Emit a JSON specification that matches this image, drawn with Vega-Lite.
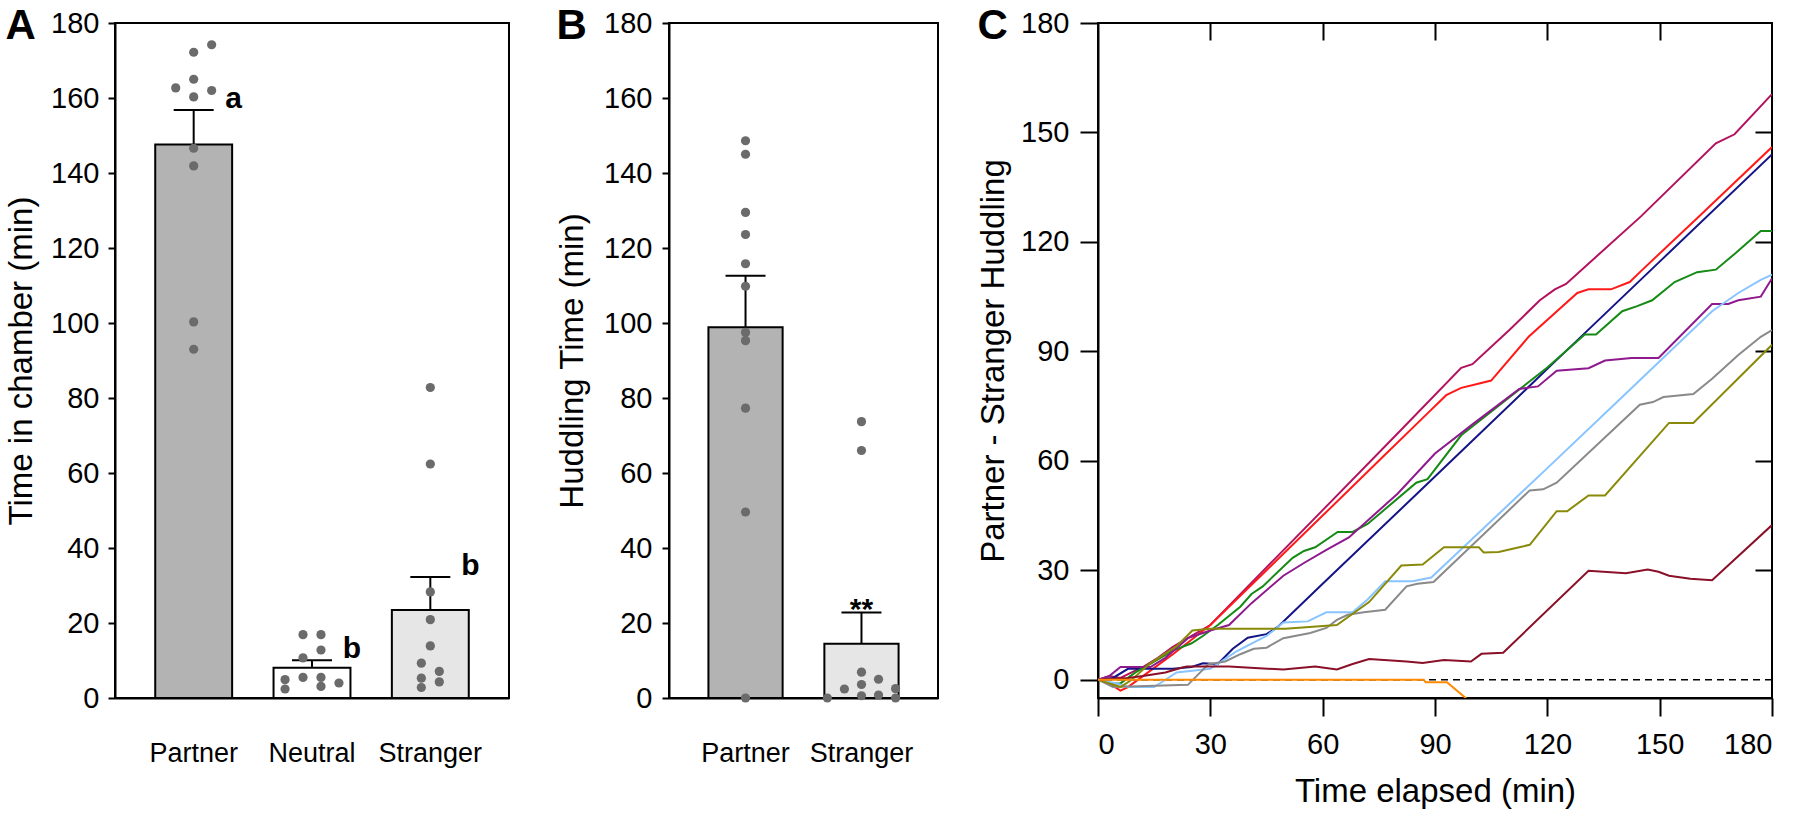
{
  "$schema": "https://vega.github.io/schema/vega-lite/v6.json",
  "padding": {"left": 4, "top": 4, "right": 5, "bottom": 0},
  "bounds": "flush",
  "spacing": 160,
  "resolve": {"scale": {"color": "independent", "xOffset": "independent"}},
  "config": {
    "font": "Liberation Sans",
    "view": {"stroke": "black", "strokeWidth": 2},
    "axis": {"domainColor": "black", "domainWidth": 2, "tickColor": "black", "tickWidth": 2, "labelColor": "black", "titleColor": "black", "labelFont": "Liberation Sans", "titleFont": "Liberation Sans", "grid": false, "labelFontSize": 29, "titleFontSize": 33, "titleFontWeight": "normal"},
    "title": {"fontSize": 42, "fontWeight": "bold", "anchor": "start", "frame": "bounds", "color": "black", "font": "Liberation Sans"}
  },
  "datasets": {
    "aBars": [
      {"cat": "Partner", "mean": 147.6, "upper": 156.8, "lab": "a"},
      {"cat": "Neutral", "mean": 8.1, "upper": 10.1, "lab": "b"},
      {"cat": "Stranger", "mean": 23.5, "upper": 32.3, "lab": "b"}
    ],
    "aDots": [
      {"cat": "Partner", "value": 174.2, "jit": 2},
      {"cat": "Partner", "value": 172.2, "jit": 0},
      {"cat": "Partner", "value": 165.0, "jit": 0},
      {"cat": "Partner", "value": 162.7, "jit": -2},
      {"cat": "Partner", "value": 162.0, "jit": 2},
      {"cat": "Partner", "value": 160.3, "jit": 0},
      {"cat": "Partner", "value": 146.6, "jit": 0},
      {"cat": "Partner", "value": 141.9, "jit": 0},
      {"cat": "Partner", "value": 100.3, "jit": 0},
      {"cat": "Partner", "value": 93.0, "jit": 0},
      {"cat": "Neutral", "value": 16.9, "jit": -1},
      {"cat": "Neutral", "value": 16.9, "jit": 1},
      {"cat": "Neutral", "value": 12.8, "jit": 1},
      {"cat": "Neutral", "value": 10.7, "jit": -1},
      {"cat": "Neutral", "value": 4.9, "jit": -3},
      {"cat": "Neutral", "value": 5.5, "jit": -1},
      {"cat": "Neutral", "value": 5.5, "jit": 1},
      {"cat": "Neutral", "value": 4.0, "jit": 3},
      {"cat": "Neutral", "value": 2.4, "jit": -3},
      {"cat": "Neutral", "value": 3.1, "jit": 1},
      {"cat": "Stranger", "value": 82.8, "jit": 0},
      {"cat": "Stranger", "value": 62.4, "jit": 0},
      {"cat": "Stranger", "value": 28.3, "jit": 0},
      {"cat": "Stranger", "value": 20.9, "jit": 0},
      {"cat": "Stranger", "value": 13.9, "jit": 0},
      {"cat": "Stranger", "value": 9.3, "jit": -1},
      {"cat": "Stranger", "value": 7.1, "jit": 1},
      {"cat": "Stranger", "value": 5.3, "jit": -1},
      {"cat": "Stranger", "value": 4.3, "jit": 1},
      {"cat": "Stranger", "value": 2.8, "jit": -1}
    ],
    "bBars": [
      {"cat": "Partner", "mean": 98.9, "upper": 112.6, "lab": ""},
      {"cat": "Stranger", "mean": 14.5, "upper": 22.8, "lab": "**"}
    ],
    "bDots": [
      {"cat": "Partner", "value": 148.6, "jit": 0},
      {"cat": "Partner", "value": 145.0, "jit": 0},
      {"cat": "Partner", "value": 129.5, "jit": 0},
      {"cat": "Partner", "value": 123.6, "jit": 0},
      {"cat": "Partner", "value": 115.8, "jit": 0},
      {"cat": "Partner", "value": 109.8, "jit": 0},
      {"cat": "Partner", "value": 97.5, "jit": 0},
      {"cat": "Partner", "value": 95.3, "jit": 0},
      {"cat": "Partner", "value": 77.3, "jit": 0},
      {"cat": "Partner", "value": 49.6, "jit": 0},
      {"cat": "Partner", "value": 0, "jit": 0},
      {"cat": "Stranger", "value": 73.7, "jit": 0},
      {"cat": "Stranger", "value": 66.0, "jit": 0},
      {"cat": "Stranger", "value": 6.9, "jit": 0},
      {"cat": "Stranger", "value": 2.4, "jit": -2},
      {"cat": "Stranger", "value": 3.6, "jit": 0},
      {"cat": "Stranger", "value": 5.0, "jit": 2},
      {"cat": "Stranger", "value": 2.5, "jit": 4},
      {"cat": "Stranger", "value": 0, "jit": -4},
      {"cat": "Stranger", "value": 0.6, "jit": 0},
      {"cat": "Stranger", "value": 0.8, "jit": 2},
      {"cat": "Stranger", "value": 0, "jit": 4}
    ],
    "cLines": [
      {"s": "1", "t": 0, "v": 0}, {"s": "1", "t": 3, "v": 1}, {"s": "1", "t": 6, "v": 0.5}, {"s": "1", "t": 9, "v": 2}, {"s": "1", "t": 12, "v": 3.5}, {"s": "1", "t": 16, "v": 6}, {"s": "1", "t": 20, "v": 9}, {"s": "1", "t": 25, "v": 12}, {"s": "1", "t": 30, "v": 15}, {"s": "1", "t": 45, "v": 30.8}, {"s": "1", "t": 60, "v": 46.5}, {"s": "1", "t": 80, "v": 67.5}, {"s": "1", "t": 97, "v": 85.5}, {"s": "1", "t": 100, "v": 86.5}, {"s": "1", "t": 110, "v": 96}, {"s": "1", "t": 118, "v": 104}, {"s": "1", "t": 122, "v": 107}, {"s": "1", "t": 125, "v": 108.5}, {"s": "1", "t": 145, "v": 127}, {"s": "1", "t": 165, "v": 147}, {"s": "1", "t": 170, "v": 149.5}, {"s": "1", "t": 180, "v": 160.5},
      {"s": "2", "t": 0, "v": 0}, {"s": "2", "t": 3, "v": -1}, {"s": "2", "t": 6, "v": -3}, {"s": "2", "t": 8, "v": -2}, {"s": "2", "t": 12, "v": 1}, {"s": "2", "t": 20, "v": 7}, {"s": "2", "t": 30, "v": 15}, {"s": "2", "t": 45, "v": 30}, {"s": "2", "t": 60, "v": 45}, {"s": "2", "t": 75, "v": 60}, {"s": "2", "t": 88, "v": 73}, {"s": "2", "t": 93, "v": 78}, {"s": "2", "t": 97, "v": 80}, {"s": "2", "t": 101, "v": 81}, {"s": "2", "t": 105, "v": 82}, {"s": "2", "t": 115, "v": 94}, {"s": "2", "t": 128, "v": 106}, {"s": "2", "t": 131, "v": 107}, {"s": "2", "t": 137, "v": 107}, {"s": "2", "t": 142, "v": 109}, {"s": "2", "t": 145, "v": 112}, {"s": "2", "t": 160, "v": 126.5}, {"s": "2", "t": 180, "v": 146},
      {"s": "3", "t": 0, "v": 0}, {"s": "3", "t": 4, "v": 0.5}, {"s": "3", "t": 8, "v": 3}, {"s": "3", "t": 20, "v": 3}, {"s": "3", "t": 25, "v": 3.5}, {"s": "3", "t": 28, "v": 4.5}, {"s": "3", "t": 32, "v": 4.3}, {"s": "3", "t": 36, "v": 8.5}, {"s": "3", "t": 40, "v": 11.5}, {"s": "3", "t": 45, "v": 12.5}, {"s": "3", "t": 48, "v": 14.5}, {"s": "3", "t": 60, "v": 26.3}, {"s": "3", "t": 90, "v": 55.7}, {"s": "3", "t": 120, "v": 85.2}, {"s": "3", "t": 150, "v": 114.6}, {"s": "3", "t": 180, "v": 144},
      {"s": "4", "t": 0, "v": 0}, {"s": "4", "t": 3, "v": -1}, {"s": "4", "t": 6, "v": -1}, {"s": "4", "t": 10, "v": 2}, {"s": "4", "t": 15, "v": 5}, {"s": "4", "t": 20, "v": 8}, {"s": "4", "t": 25, "v": 10}, {"s": "4", "t": 28, "v": 12}, {"s": "4", "t": 32, "v": 15}, {"s": "4", "t": 38, "v": 20}, {"s": "4", "t": 41, "v": 23.5}, {"s": "4", "t": 44, "v": 25.6}, {"s": "4", "t": 52, "v": 33.4}, {"s": "4", "t": 55, "v": 35.3}, {"s": "4", "t": 58, "v": 36.3}, {"s": "4", "t": 64, "v": 40.5}, {"s": "4", "t": 68, "v": 40.5}, {"s": "4", "t": 72, "v": 42.7}, {"s": "4", "t": 85, "v": 54}, {"s": "4", "t": 88, "v": 55}, {"s": "4", "t": 97, "v": 67}, {"s": "4", "t": 120, "v": 85.6}, {"s": "4", "t": 130, "v": 94.6}, {"s": "4", "t": 133, "v": 94.6}, {"s": "4", "t": 140, "v": 101}, {"s": "4", "t": 144, "v": 102.4}, {"s": "4", "t": 148, "v": 104}, {"s": "4", "t": 154, "v": 109}, {"s": "4", "t": 160, "v": 111.7}, {"s": "4", "t": 165, "v": 112.4}, {"s": "4", "t": 170, "v": 116.7}, {"s": "4", "t": 177, "v": 123}, {"s": "4", "t": 180, "v": 123},
      {"s": "5", "t": 0, "v": 0}, {"s": "5", "t": 3, "v": 1}, {"s": "5", "t": 6, "v": 3.5}, {"s": "5", "t": 14, "v": 3.5}, {"s": "5", "t": 18, "v": 6}, {"s": "5", "t": 24, "v": 11.4}, {"s": "5", "t": 30, "v": 13.5}, {"s": "5", "t": 35, "v": 15}, {"s": "5", "t": 41, "v": 21}, {"s": "5", "t": 49.5, "v": 28.5}, {"s": "5", "t": 55, "v": 32}, {"s": "5", "t": 61, "v": 35.6}, {"s": "5", "t": 67, "v": 39}, {"s": "5", "t": 80, "v": 51}, {"s": "5", "t": 90, "v": 62}, {"s": "5", "t": 100, "v": 70}, {"s": "5", "t": 112.5, "v": 79.7}, {"s": "5", "t": 117.5, "v": 80.4}, {"s": "5", "t": 122.5, "v": 84.7}, {"s": "5", "t": 131, "v": 85.4}, {"s": "5", "t": 135.4, "v": 87.5}, {"s": "5", "t": 142.5, "v": 88.2}, {"s": "5", "t": 149.7, "v": 88.2}, {"s": "5", "t": 164, "v": 103}, {"s": "5", "t": 168.3, "v": 103}, {"s": "5", "t": 171, "v": 104}, {"s": "5", "t": 177, "v": 105}, {"s": "5", "t": 180, "v": 110},
      {"s": "6", "t": 0, "v": 0}, {"s": "6", "t": 5, "v": -1}, {"s": "6", "t": 8, "v": -2}, {"s": "6", "t": 15, "v": -2}, {"s": "6", "t": 18, "v": 0}, {"s": "6", "t": 21, "v": 2}, {"s": "6", "t": 30, "v": 3}, {"s": "6", "t": 34, "v": 5.7}, {"s": "6", "t": 37, "v": 7.8}, {"s": "6", "t": 45, "v": 12}, {"s": "6", "t": 49.5, "v": 15.7}, {"s": "6", "t": 56, "v": 16}, {"s": "6", "t": 61, "v": 18.5}, {"s": "6", "t": 68, "v": 18.5}, {"s": "6", "t": 72, "v": 22}, {"s": "6", "t": 76.7, "v": 27}, {"s": "6", "t": 84, "v": 27}, {"s": "6", "t": 89, "v": 28}, {"s": "6", "t": 92.4, "v": 31.3}, {"s": "6", "t": 120, "v": 58}, {"s": "6", "t": 140, "v": 77.5}, {"s": "6", "t": 164, "v": 101}, {"s": "6", "t": 171, "v": 106}, {"s": "6", "t": 177, "v": 109.6}, {"s": "6", "t": 180, "v": 111},
      {"s": "7", "t": 0, "v": 0}, {"s": "7", "t": 4, "v": -2}, {"s": "7", "t": 24, "v": -1.4}, {"s": "7", "t": 29.5, "v": 4.3}, {"s": "7", "t": 34, "v": 5}, {"s": "7", "t": 38, "v": 7}, {"s": "7", "t": 41.6, "v": 8.5}, {"s": "7", "t": 45, "v": 8.8}, {"s": "7", "t": 49.5, "v": 11.4}, {"s": "7", "t": 56.7, "v": 12.8}, {"s": "7", "t": 61, "v": 14.2}, {"s": "7", "t": 63.8, "v": 16.4}, {"s": "7", "t": 66.7, "v": 17.8}, {"s": "7", "t": 71, "v": 18.5}, {"s": "7", "t": 76.7, "v": 19.2}, {"s": "7", "t": 82.4, "v": 25.6}, {"s": "7", "t": 85.3, "v": 26.3}, {"s": "7", "t": 89.6, "v": 26.8}, {"s": "7", "t": 115.3, "v": 51.9}, {"s": "7", "t": 118.9, "v": 52.2}, {"s": "7", "t": 122.5, "v": 54}, {"s": "7", "t": 144.7, "v": 75.4}, {"s": "7", "t": 148.2, "v": 76.1}, {"s": "7", "t": 151, "v": 77.5}, {"s": "7", "t": 159, "v": 78.3}, {"s": "7", "t": 164, "v": 82.5}, {"s": "7", "t": 171, "v": 89}, {"s": "7", "t": 177, "v": 94}, {"s": "7", "t": 180, "v": 95.8},
      {"s": "8", "t": 0, "v": 0}, {"s": "8", "t": 3, "v": -1}, {"s": "8", "t": 6, "v": -2}, {"s": "8", "t": 9, "v": 0}, {"s": "8", "t": 13.7, "v": 4.3}, {"s": "8", "t": 21, "v": 9.2}, {"s": "8", "t": 25.2, "v": 13.5}, {"s": "8", "t": 30, "v": 14}, {"s": "8", "t": 50, "v": 14}, {"s": "8", "t": 63.8, "v": 15}, {"s": "8", "t": 72.4, "v": 21.3}, {"s": "8", "t": 81, "v": 31.3}, {"s": "8", "t": 86.7, "v": 31.6}, {"s": "8", "t": 92.4, "v": 36.3}, {"s": "8", "t": 101.7, "v": 36.3}, {"s": "8", "t": 103, "v": 34.9}, {"s": "8", "t": 107, "v": 35}, {"s": "8", "t": 112.5, "v": 36.3}, {"s": "8", "t": 115.3, "v": 37}, {"s": "8", "t": 122.5, "v": 46.2}, {"s": "8", "t": 125.3, "v": 46.2}, {"s": "8", "t": 131, "v": 50.5}, {"s": "8", "t": 135.4, "v": 50.5}, {"s": "8", "t": 152.5, "v": 70.4}, {"s": "8", "t": 159, "v": 70.4}, {"s": "8", "t": 180, "v": 91.8},
      {"s": "9", "t": 0, "v": 0}, {"s": "9", "t": 8, "v": 0.5}, {"s": "9", "t": 12, "v": 1}, {"s": "9", "t": 18, "v": 2}, {"s": "9", "t": 22, "v": 3.2}, {"s": "9", "t": 23.7, "v": 3.6}, {"s": "9", "t": 35, "v": 3.6}, {"s": "9", "t": 49.5, "v": 2.8}, {"s": "9", "t": 58, "v": 3.6}, {"s": "9", "t": 63.8, "v": 2.8}, {"s": "9", "t": 68, "v": 4.3}, {"s": "9", "t": 72.4, "v": 5.7}, {"s": "9", "t": 82.4, "v": 5}, {"s": "9", "t": 86.7, "v": 4.6}, {"s": "9", "t": 92.4, "v": 5.4}, {"s": "9", "t": 99.6, "v": 5}, {"s": "9", "t": 102.4, "v": 7.1}, {"s": "9", "t": 108.2, "v": 7.4}, {"s": "9", "t": 131, "v": 29.9}, {"s": "9", "t": 141, "v": 29.2}, {"s": "9", "t": 146.8, "v": 30.2}, {"s": "9", "t": 149.7, "v": 29.6}, {"s": "9", "t": 152.5, "v": 28.5}, {"s": "9", "t": 158.2, "v": 27.7}, {"s": "9", "t": 164, "v": 27.3}, {"s": "9", "t": 180, "v": 42.4},
      {"s": "10", "t": 0, "v": 0}, {"s": "10", "t": 87, "v": 0}, {"s": "10", "t": 87.5, "v": -0.7}, {"s": "10", "t": 93.2, "v": -0.7}, {"s": "10", "t": 98.2, "v": -5}, {"s": "10", "t": 100, "v": -7}
    ]
  },
  "hconcat": [
    {
      "title": {"text": "A", "offset": -39, "fontSize": 42, "fontWeight": "bold"},
      "width": 394,
      "height": 675,
      "resolve": {"scale": {"xOffset": "independent"}},
      "layer": [
        {
          "data": {"name": "aBars"},
          "mark": {"type": "bar", "stroke": "black", "strokeWidth": 2},
          "encoding": {
            "x": {"field": "cat", "type": "nominal", "sort": null, "scale": {"domain": ["Partner", "Neutral", "Stranger"], "paddingInner": 0.35, "paddingOuter": 0.34}, "axis": {"title": null, "ticks": false, "labelAngle": 0, "labelPadding": 42, "labelFontSize": 27}},
            "y": {"field": "mean", "type": "quantitative", "scale": {"domain": [0, 180], "nice": false}, "axis": {"title": "Time in chamber (min)", "values": [0, 20, 40, 60, 80, 100, 120, 140, 160, 180], "tickSize": 7, "labelPadding": 9, "titlePadding": 12}},
            "color": {"field": "cat", "type": "nominal", "scale": {"domain": ["Partner", "Neutral", "Stranger"], "range": ["#b3b3b3", "#ffffff", "#e6e6e6"]}, "legend": null}
          }
        },
        {
          "data": {"name": "aBars"},
          "mark": {"type": "rule", "color": "black", "strokeWidth": 2},
          "encoding": {"x": {"field": "cat", "type": "nominal"}, "y": {"field": "mean", "type": "quantitative"}, "y2": {"field": "upper"}}
        },
        {
          "data": {"name": "aBars"},
          "mark": {"type": "tick", "color": "black", "thickness": 2, "size": 40, "opacity": 1},
          "encoding": {"x": {"field": "cat", "type": "nominal"}, "y": {"field": "upper", "type": "quantitative"}}
        },
        {
          "data": {"name": "aDots"},
          "mark": {"type": "circle", "color": "#6b6b6b", "opacity": 1, "size": 85},
          "encoding": {"x": {"field": "cat", "type": "nominal"}, "xOffset": {"field": "jit", "type": "quantitative", "scale": {"domain": [-4.28, 4.28], "nice": false, "zero": false}}, "y": {"field": "value", "type": "quantitative"}}
        },
        {
          "data": {"name": "aBars"},
          "mark": {"type": "text", "fontSize": 30, "fontWeight": "bold", "dx": 40, "dy": -2, "baseline": "alphabetic", "color": "black"},
          "encoding": {"x": {"field": "cat", "type": "nominal"}, "y": {"field": "upper", "type": "quantitative"}, "text": {"field": "lab"}}
        }
      ]
    },
    {
      "title": {"text": "B", "offset": -39, "fontSize": 42, "fontWeight": "bold"},
      "width": 269,
      "height": 675,
      "resolve": {"scale": {"xOffset": "independent"}},
      "layer": [
        {
          "data": {"name": "bBars"},
          "mark": {"type": "bar", "stroke": "black", "strokeWidth": 2},
          "encoding": {
            "x": {"field": "cat", "type": "nominal", "sort": null, "scale": {"domain": ["Partner", "Stranger"], "paddingInner": 0.36, "paddingOuter": 0.34}, "axis": {"title": null, "ticks": false, "labelAngle": 0, "labelPadding": 42, "labelFontSize": 27}},
            "y": {"field": "mean", "type": "quantitative", "scale": {"domain": [0, 180], "nice": false}, "axis": {"title": "Huddling Time (min)", "values": [0, 20, 40, 60, 80, 100, 120, 140, 160, 180], "tickSize": 7, "labelPadding": 10, "titlePadding": 14}},
            "color": {"field": "cat", "type": "nominal", "scale": {"domain": ["Partner", "Stranger"], "range": ["#b3b3b3", "#e6e6e6"]}, "legend": null}
          }
        },
        {
          "data": {"name": "bBars"},
          "mark": {"type": "rule", "color": "black", "strokeWidth": 2},
          "encoding": {"x": {"field": "cat", "type": "nominal"}, "y": {"field": "mean", "type": "quantitative"}, "y2": {"field": "upper"}}
        },
        {
          "data": {"name": "bBars"},
          "mark": {"type": "tick", "color": "black", "thickness": 2, "size": 40, "opacity": 1},
          "encoding": {"x": {"field": "cat", "type": "nominal"}, "y": {"field": "upper", "type": "quantitative"}}
        },
        {
          "data": {"name": "bDots"},
          "mark": {"type": "circle", "color": "#6b6b6b", "opacity": 1, "size": 85},
          "encoding": {"x": {"field": "cat", "type": "nominal"}, "xOffset": {"field": "jit", "type": "quantitative", "scale": {"domain": [-4.35, 4.35], "nice": false, "zero": false}}, "y": {"field": "value", "type": "quantitative"}}
        },
        {
          "data": {"name": "bBars"},
          "mark": {"type": "text", "fontSize": 30, "fontWeight": "bold", "dx": 0, "dy": 6, "baseline": "alphabetic", "color": "black"},
          "encoding": {"x": {"field": "cat", "type": "nominal"}, "y": {"field": "upper", "type": "quantitative"}, "text": {"field": "lab"}}
        }
      ]
    },
    {
      "title": {"text": "C", "offset": -39, "fontSize": 42, "fontWeight": "bold"},
      "width": 674,
      "height": 675,
      "resolve": {"axis": {"x": "independent", "y": "independent"}},
      "layer": [
        {
          "data": {"values": [{}]},
          "mark": {"type": "rule", "strokeDash": [7, 5], "color": "black", "strokeWidth": 1.5},
          "encoding": {"y": {"datum": 0, "type": "quantitative", "axis": null, "scale": {"domain": [-5, 180], "nice": false}}}
        },
        {
          "data": {"name": "cLines"},
          "mark": {"type": "line", "strokeWidth": 2, "clip": true},
          "encoding": {
            "x": {"field": "t", "type": "quantitative", "scale": {"domain": [0, 180], "nice": false}, "axis": {"title": "Time elapsed (min)", "values": [0, 30, 60, 90, 120, 150, 180], "tickSize": 18, "labelPadding": 14, "titlePadding": 16}},
            "y": {"field": "v", "type": "quantitative", "scale": {"domain": [-5, 180], "nice": false}, "axis": {"title": "Partner - Stranger Huddling", "values": [0, 30, 60, 90, 120, 150, 180], "tickSize": 18, "labelPadding": 11, "titlePadding": 10}},
            "color": {"field": "s", "type": "nominal", "scale": {"domain": ["1", "2", "3", "4", "5", "6", "7", "8", "9", "10"], "range": ["#b2125e", "#ff1a1a", "#141487", "#158a15", "#8e1a8e", "#88c4ff", "#8a8a8a", "#8a8a0a", "#8a1028", "#ff8a00"]}, "legend": null}
          }
        },
        {
          "data": {"name": "cLines"},
          "mark": {"type": "point", "opacity": 0},
          "encoding": {
            "x": {"field": "t", "type": "quantitative", "axis": {"orient": "top", "title": null, "labels": false, "domain": false, "values": [30, 60, 90, 120, 150], "tickSize": -17}},
            "y": {"field": "v", "type": "quantitative", "axis": {"orient": "right", "title": null, "labels": false, "domain": false, "values": [30, 60, 90, 120, 150], "tickSize": -17}}
          }
        }
      ]
    }
  ]
}
